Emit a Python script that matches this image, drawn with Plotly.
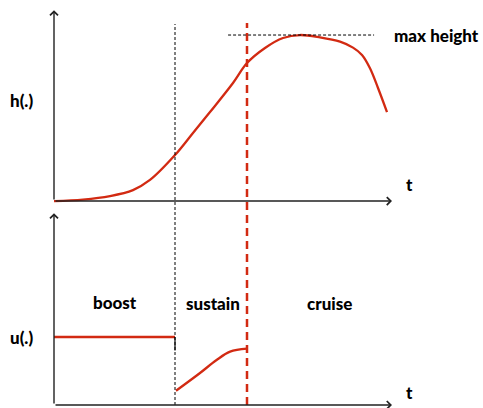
import plotly.graph_objects as go
from plotly.subplots import make_subplots

# ---- data ----
t_h = [0.0, 0.858, 1.657, 2.337, 2.840, 3.580, 4.112, 4.615, 5.296, 5.710,
       6.243, 6.775, 7.278, 7.870, 8.462, 8.846, 9.112, 9.349, 9.586, 9.852]
h_vals = [0.0, 0.009, 0.030, 0.066, 0.127, 0.277, 0.410, 0.536, 0.711, 0.831,
          0.922, 0.982, 1.0, 0.986, 0.960, 0.924, 0.880, 0.800, 0.681, 0.536]

t_boost = [0.0, 3.58]
u_boost = [1.0, 1.0]

t_sustain = [3.61, 4.32, 4.81, 5.21, 5.71]
u_sustain = [0.210, 0.471, 0.662, 0.784, 0.828]

t_boost_end = 3.58
t_sustain_end = 5.71
h_max = 1.0
h_max_line = [5.15, 9.47]

t_axis_end = 10.0
h_axis_top = 1.15
u_axis_top = 2.82

RED = "#d22a12"
AX = "#222222"
FONT = "Lato"

fig = make_subplots(rows=2, cols=1, shared_xaxes=False, vertical_spacing=0)

fig.add_trace(go.Scatter(x=t_h, y=h_vals, mode="lines",
                         line=dict(color=RED, width=2.3, shape="spline", smoothing=1.0),
                         hoverinfo="skip", showlegend=False), row=1, col=1)
fig.add_trace(go.Scatter(x=t_boost, y=u_boost, mode="lines",
                         line=dict(color=RED, width=2.3),
                         hoverinfo="skip", showlegend=False), row=2, col=1)
fig.add_trace(go.Scatter(x=t_sustain, y=u_sustain, mode="lines",
                         line=dict(color=RED, width=2.3, shape="spline", smoothing=1.0),
                         hoverinfo="skip", showlegend=False), row=2, col=1)

xr = [-54 / 33.8, (483 - 54) / 33.8]
top_dom = [1 - 208 / 408, 1]
bot_dom = [0, 1 - 208 / 408]
fig.update_layout(
    width=483, height=408, margin=dict(l=0, r=0, t=0, b=0),
    paper_bgcolor="white", plot_bgcolor="white",
    xaxis=dict(range=xr, domain=[0, 1], visible=False),
    xaxis2=dict(range=xr, domain=[0, 1], visible=False),
    yaxis=dict(range=[-0.042, 1.211], domain=top_dom, visible=False),
    yaxis2=dict(range=[-0.044, 2.897], domain=bot_dom, visible=False),
)

# axis arrows
def arrow(xref, yref, x0, y0, x1, y1):
    fig.add_annotation(xref=xref, yref=yref, axref=xref, ayref=yref,
                       x=x1, y=y1, ax=x0, ay=y0, text="", showarrow=True,
                       arrowhead=4, arrowsize=1.1, arrowwidth=1.4, arrowcolor=AX,
                       standoff=0, startstandoff=0)

arrow("x", "y", 0, 0, t_axis_end, 0)
arrow("x", "y", 0, 0, 0, h_axis_top)
arrow("x2", "y2", 0, 0, t_axis_end, 0)
arrow("x2", "y2", 0, 0, 0, u_axis_top)

# vertical phase lines spanning both panels
fig.add_shape(type="line", xref="x", yref="paper", x0=t_boost_end, x1=t_boost_end,
              y0=1 - 405 / 408, y1=1 - 24 / 408, line=dict(color="black", width=1, dash="3px,2px"))
fig.add_shape(type="line", xref="x", yref="paper", x0=t_sustain_end, x1=t_sustain_end,
              y0=1 - 405 / 408, y1=1 - 23 / 408, line=dict(color=RED, width=2.5, dash="8px,5px"))
# short solid step at end of boost
fig.add_shape(type="line", xref="x2", yref="y2", x0=t_boost_end, x1=t_boost_end,
              y0=0.8, y1=1.0, line=dict(color="black", width=1.2))
# max height dotted line
fig.add_shape(type="line", xref="x", yref="y", x0=h_max_line[0], x1=h_max_line[1],
              y0=h_max, y1=h_max, line=dict(color="black", width=1, dash="3px,2px"))

def label(text, x, y, xref, yref, size=17):
    fig.add_annotation(text=text, x=x, y=y, xref=xref, yref=yref, showarrow=False,
                       font=dict(family=FONT, size=size, color="black", weight=900))

label("max height", 11.33, 1.0, "x", "y")
label("t", 10.53, 0.102, "x", "y")
label("h(.)", -0.947, 0.608, "x", "y")
label("t", 10.53, 0.19, "x2", "y2")
label("u(.)", -0.947, 1.0, "x2", "y2")
label("boost", 1.80, 1.51, "x2", "y2")
label("sustain", 4.70, 1.50, "x2", "y2")
label("cruise", 8.14, 1.50, "x2", "y2")

fig.write_html("out.html", config={"displayModeBar": False},
               post_script="document.body.style.margin='0';document.body.style.overflow='hidden';")
